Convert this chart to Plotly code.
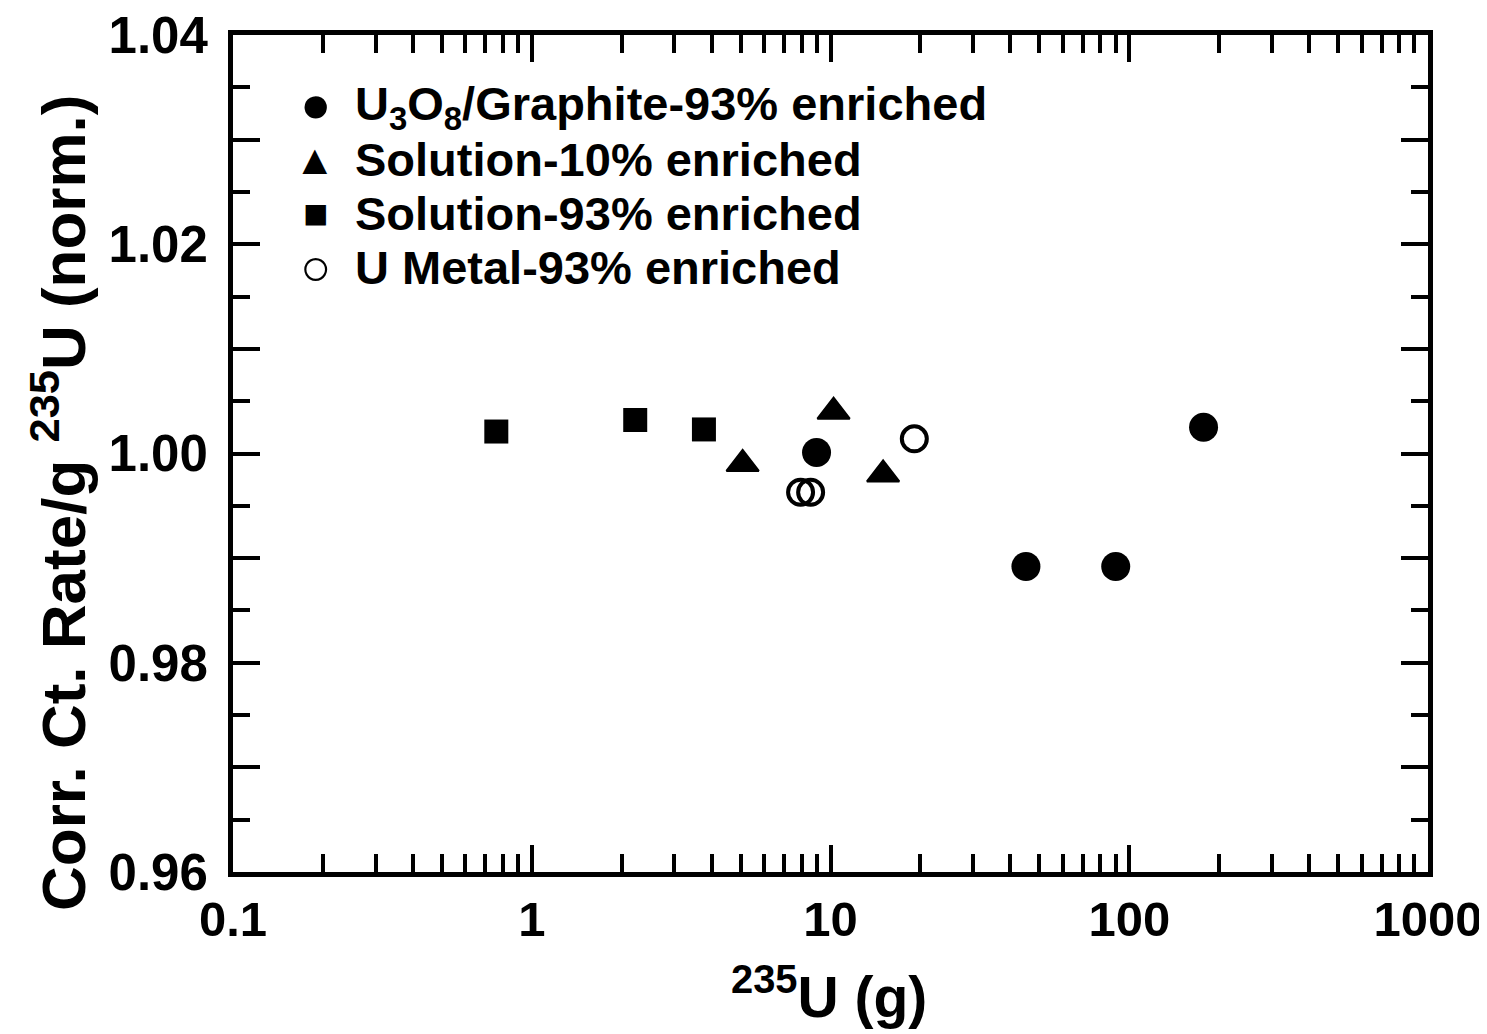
import plotly.graph_objects as go

# U3O8/Graphite-93% enriched (filled circles)
u3o8_x = [8.98, 45.1, 90.1, 177.3]
u3o8_y = [1.0001, 0.9892, 0.9892, 1.0025]
# Solution-10% enriched (triangles)
sol10_x = [5.08, 10.24, 15.0]
sol10_y = [0.9990, 1.0040, 0.9980]
# Solution-93% enriched (squares)
sol93_x = [0.761, 2.22, 3.77]
sol93_y = [1.0021, 1.0032, 1.0023]
# U Metal-93% enriched (open circles)
umet_x = [7.94, 8.58, 19.08]
umet_y = [0.9963, 0.9963, 1.0014]

names = ["U<sub>3</sub>O<sub>8</sub>/Graphite-93% enriched",
         "Solution-10% enriched",
         "Solution-93% enriched",
         "U Metal-93% enriched"]
legend_symbols = ["●", "▲", "■", "○"]

y_tickvals = [0.96, 0.97, 0.98, 0.99, 1.00, 1.01, 1.02, 1.03, 1.04]
y_ticktext = ["0.96", "", "0.98", "", "1.00", "", "1.02", "", "1.04"]
x_tickvals = [0.1, 1, 10, 100, 1000]
x_ticktext = ["0.1", "1", "10", "100", "1000"]
x_minor = [m * d for d in [0.1, 1, 10, 100] for m in range(2, 10)]

FONT = "Liberation Sans, Arial, Helvetica, sans-serif"

fig = go.Figure()
fig.add_trace(go.Scatter(x=u3o8_x, y=u3o8_y, mode="markers", name=names[0],
                         marker=dict(symbol="circle", size=29, color="black")))
fig.add_trace(go.Scatter(x=sol10_x, y=sol10_y, mode="markers", name=names[1],
                         marker=dict(symbol="triangle-up", size=28, color="black",
                                     line=dict(width=2, color="black"))))
fig.add_trace(go.Scatter(x=sol93_x, y=sol93_y, mode="markers", name=names[2],
                         marker=dict(symbol="square", size=24, color="black")))
fig.add_trace(go.Scatter(x=umet_x, y=umet_y, mode="markers", name=names[3],
                         marker=dict(symbol="circle-open", size=25, color="black",
                                     line=dict(width=4, color="black"))))

# page body has an ~8px margin; target plot area (page px): left 232, right 1427, top 34, bottom 871
OFF = 7
W, H = 1479, 1026
L = 232 - OFF
T = 34 - OFF
R = W - (1427 - OFF)
B = H - (871 - OFF)
pw, ph = W - L - R, H - T - B


def px(xp):
    return (xp - OFF - L) / pw


def py(yp):
    return (H - B - (yp - OFF)) / ph


annotations = []
row_y = [101, 158, 212, 266]
sym_sizes = [52, 42, 42, 52]
sym_y = [103, 158, 212, 266]
for i, (nm, sym) in enumerate(zip(names, legend_symbols)):
    annotations.append(dict(
        x=px(352), y=py(row_y[i] + (5 if i == 0 else 0)), xref="paper", yref="paper",
        xanchor="left", yanchor="middle", showarrow=False, text=nm,
        font=dict(family=FONT, size=47, color="black", weight="bold")))
    annotations.append(dict(
        x=px(314), y=py(sym_y[i]), xref="paper", yref="paper",
        xanchor="center", yanchor="middle", showarrow=False, text=sym,
        font=dict(family=FONT, size=sym_sizes[i], color="black")))

annotations.append(dict(
    x=px(58), y=py(502), xref="paper", yref="paper", textangle=-90,
    xanchor="center", yanchor="middle", showarrow=False,
    text="Corr. Ct. Rate/g <sup>235</sup>U (norm.)",
    font=dict(family=FONT, size=62, color="black", weight="bold")))
annotations.append(dict(
    x=px(828), y=py(992), xref="paper", yref="paper",
    xanchor="center", yanchor="middle", showarrow=False,
    text="<sup>235</sup>U (g)",
    font=dict(family=FONT, size=57, color="black", weight="bold")))

fig.update_layout(
    width=W, height=H,
    margin=dict(l=L, r=R, t=T, b=B, autoexpand=False),
    paper_bgcolor="white", plot_bgcolor="white",
    font=dict(family=FONT, color="black", size=44, weight="bold"),
    showlegend=False,
    annotations=annotations,
)

fig.update_xaxes(
    type="log", range=[-1, 3], automargin=False,
    tickmode="array", tickvals=x_tickvals, ticktext=x_ticktext,
    ticks="inside", ticklen=27, tickwidth=4, tickcolor="black",
    showline=True, linewidth=5, linecolor="black", mirror="allticks",
    showgrid=False, zeroline=False,
    tickfont=dict(family=FONT, size=49, weight="bold"),
    ticklabelstandoff=0, ticklabeloverflow="allow",
    minor=dict(tickmode="array", tickvals=x_minor, ticks="inside",
               ticklen=18, tickwidth=4, tickcolor="black", showgrid=False),
)
fig.update_yaxes(
    range=[0.96, 1.04], automargin=False,
    tickmode="array", tickvals=y_tickvals, ticktext=y_ticktext,
    ticks="inside", ticklen=27, tickwidth=4, tickcolor="black",
    showline=True, linewidth=5, linecolor="black", mirror="allticks",
    showgrid=False, zeroline=False,
    tickfont=dict(family=FONT, size=51, weight="bold"),
    ticklabelstandoff=10, ticklabeloverflow="allow",
    minor=dict(dtick=0.005, tick0=0.96, ticks="inside", ticklen=17,
               tickwidth=4, tickcolor="black", showgrid=False),
)

fig.write_html("out.html")
